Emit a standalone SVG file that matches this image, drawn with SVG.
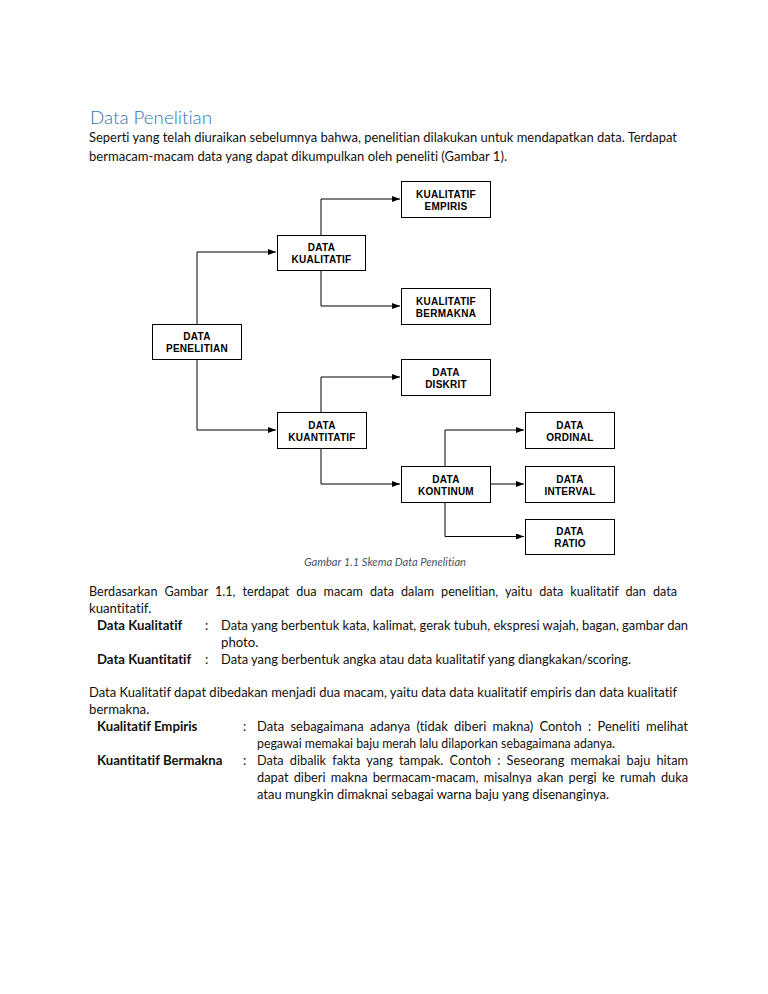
<svg xmlns="http://www.w3.org/2000/svg" width="768" height="994" viewBox="0 0 768 994">
<style>
.bg{fill:#fff}
.box{fill:#fff;stroke:#000;stroke-width:1}
.bt{font-family:"Liberation Sans",Arial,sans-serif;font-weight:bold;font-size:10px;letter-spacing:0.25px;fill:#000;text-anchor:middle}
.con{fill:none;stroke:#000;stroke-width:1}
text{font-variant-ligatures:none}
.t{font-family:Lato,"Open Sans",sans-serif;font-size:13.2px;fill:#111}
.b{font-family:Lato,"Open Sans",sans-serif;font-size:13.2px;font-weight:bold;fill:#111}
.h{font-family:Lato,"Open Sans",sans-serif;font-size:18px;font-weight:300;fill:#2E74B5}
.cap{font-family:Lato,"Open Sans",sans-serif;font-size:10.5px;font-style:italic;fill:#44546A}
</style>
<defs>
<marker id="ah" markerUnits="userSpaceOnUse" markerWidth="9" markerHeight="7" refX="8" refY="3" orient="auto">
<path d="M0,0 L8,3 L0,6 z" fill="#000"/>
</marker>
</defs>
<rect class="bg" x="0" y="0" width="768" height="994"/>

<g id="text">
<text class="h" x="90" y="124" textLength="122" lengthAdjust="spacingAndGlyphs">Data Penelitian</text>
<text class="t" x="89" y="142" textLength="588" lengthAdjust="spacingAndGlyphs">Seperti yang telah diuraikan sebelumnya bahwa, penelitian dilakukan untuk mendapatkan data. Terdapat</text>
<text class="t" x="89" y="161" textLength="418" lengthAdjust="spacingAndGlyphs">bermacam-macam data yang dapat dikumpulkan oleh peneliti (Gambar 1).</text>
<text class="cap" x="304" y="566" textLength="162" lengthAdjust="spacingAndGlyphs">Gambar 1.1 Skema Data Penelitian</text>

<text class="t" x="89" y="596" textLength="588" lengthAdjust="spacingAndGlyphs" word-spacing="4">Berdasarkan Gambar 1.1, terdapat dua macam data dalam penelitian, yaitu data kualitatif dan data</text>
<text class="t" x="89" y="613">kuantitatif.</text>
<text class="b" x="97" y="630">Data Kualitatif</text>
<text class="t" x="205" y="630">:</text>
<text class="t" x="221" y="630" textLength="467" lengthAdjust="spacingAndGlyphs">Data yang berbentuk kata, kalimat, gerak tubuh, ekspresi wajah, bagan, gambar dan</text>
<text class="t" x="221" y="647">photo.</text>
<text class="b" x="97" y="664">Data Kuantitatif</text>
<text class="t" x="205" y="664">:</text>
<text class="t" x="221" y="664" textLength="410" lengthAdjust="spacingAndGlyphs">Data yang berbentuk angka atau data kualitatif yang diangkakan/scoring.</text>

<text class="t" x="89" y="697" textLength="588" lengthAdjust="spacingAndGlyphs">Data Kualitatif dapat dibedakan menjadi dua macam, yaitu data data kualitatif empiris dan data kualitatif</text>
<text class="t" x="89" y="714">bermakna.</text>
<text class="b" x="97" y="731">Kualitatif Empiris</text>
<text class="t" x="243" y="731">:</text>
<text class="t" x="257" y="731" textLength="431" lengthAdjust="spacingAndGlyphs" word-spacing="3">Data sebagaimana adanya (tidak diberi makna) Contoh : Peneliti melihat</text>
<text class="t" x="257" y="748" textLength="358" lengthAdjust="spacingAndGlyphs">pegawai memakai baju merah lalu dilaporkan sebagaimana adanya.</text>
<text class="b" x="97" y="765">Kuantitatif Bermakna</text>
<text class="t" x="243" y="765">:</text>
<text class="t" x="257" y="765" textLength="431" lengthAdjust="spacingAndGlyphs" word-spacing="3">Data dibalik fakta yang tampak. Contoh : Seseorang memakai baju hitam</text>
<text class="t" x="257" y="782" textLength="431" lengthAdjust="spacingAndGlyphs" word-spacing="2">dapat diberi makna bermacam-macam, misalnya akan pergi ke rumah duka</text>
<text class="t" x="257" y="799" textLength="352" lengthAdjust="spacingAndGlyphs">atau mungkin dimaknai sebagai warna baju yang disenanginya.</text>
</g>

<g id="connectors">
<path class="con" d="M197,324 V252 H276" marker-end="url(#ah)"/>
<path class="con" d="M197,359 V430 H276" marker-end="url(#ah)"/>
<path class="con" d="M321,235 V199 H400" marker-end="url(#ah)"/>
<path class="con" d="M321,270 V306 H400" marker-end="url(#ah)"/>
<path class="con" d="M321,412 V377 H400" marker-end="url(#ah)"/>
<path class="con" d="M321,448 V484 H400" marker-end="url(#ah)"/>
<path class="con" d="M445,466 V430 H524" marker-end="url(#ah)"/>
<path class="con" d="M490,484 H524" marker-end="url(#ah)"/>
<path class="con" d="M445,502 V536.5 H524" marker-end="url(#ah)"/>
</g>

<g id="n-empiris">
<rect class="box" x="401.5" y="181.5" width="89" height="36"/>
<text class="bt" x="446" y="197.5">KUALITATIF</text>
<text class="bt" x="446" y="209.5">EMPIRIS</text>
</g>
<g id="n-kualitatif">
<rect class="box" x="277.5" y="235.5" width="88" height="35"/>
<text class="bt" x="321.5" y="250.5">DATA</text>
<text class="bt" x="321.5" y="262.5">KUALITATIF</text>
</g>
<g id="n-bermakna">
<rect class="box" x="401.5" y="288.5" width="89" height="36"/>
<text class="bt" x="446" y="304.5">KUALITATIF</text>
<text class="bt" x="446" y="316.5">BERMAKNA</text>
</g>
<g id="n-penelitian">
<rect class="box" x="152.5" y="324.5" width="89" height="35"/>
<text class="bt" x="197" y="339.5">DATA</text>
<text class="bt" x="197" y="351.5">PENELITIAN</text>
</g>
<g id="n-diskrit">
<rect class="box" x="401.5" y="359.5" width="89" height="36"/>
<text class="bt" x="446" y="375.5">DATA</text>
<text class="bt" x="446" y="387.5">DISKRIT</text>
</g>
<g id="n-kuantitatif">
<rect class="box" x="277.5" y="412.5" width="89" height="36"/>
<text class="bt" x="322" y="428.5">DATA</text>
<text class="bt" x="322" y="440.5">KUANTITATIF</text>
</g>
<g id="n-ordinal">
<rect class="box" x="525.5" y="412.5" width="89" height="36"/>
<text class="bt" x="570" y="428.5">DATA</text>
<text class="bt" x="570" y="440.5">ORDINAL</text>
</g>
<g id="n-kontinum">
<rect class="box" x="401.5" y="466.5" width="89" height="36"/>
<text class="bt" x="446" y="482.5">DATA</text>
<text class="bt" x="446" y="494.5">KONTINUM</text>
</g>
<g id="n-interval">
<rect class="box" x="525.5" y="466.5" width="89" height="36"/>
<text class="bt" x="570" y="482.5">DATA</text>
<text class="bt" x="570" y="494.5">INTERVAL</text>
</g>
<g id="n-ratio">
<rect class="box" x="525.5" y="519.5" width="89" height="35"/>
<text class="bt" x="570" y="535">DATA</text>
<text class="bt" x="570" y="547">RATIO</text>
</g>
</svg>
